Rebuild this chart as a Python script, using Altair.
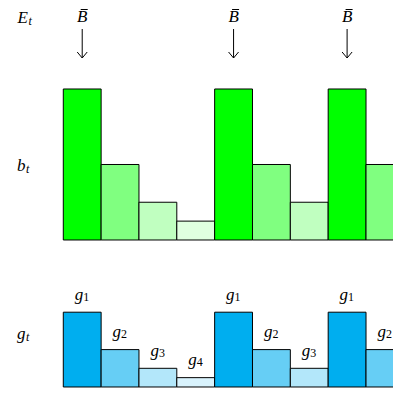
import altair as alt
import pandas as pd

# ---- data ----
slots = list(range(9))
b_values = [8, 4, 2, 1, 8, 4, 2, 8, 4]
g_values = [8, 4, 2, 1, 8, 4, 2, 8, 4]
g_index = ["1", "2", "3", "4", "1", "2", "3", "1", "2"]
events = [1, 0, 0, 0, 1, 0, 0, 1, 0]
levels = [8, 4, 2, 1]
greens = ["#00ff00", "#80ff80", "#c0ffc0", "#e0ffe0"]
blues = ["#00aeef", "#66cef5", "#b3e7fa", "#d9f3fd"]

df = pd.DataFrame({
    "x0": slots,
    "x1": [s + 1 for s in slots],
    "xc": [s + 0.5 for s in slots],
    "b": b_values,
    "g": g_values,
    "gi": g_index,
    "ev": events,
    "zero": [0] * 9,
})
events_df = df[df["ev"] == 1]

FONT = "Liberation Serif"
W, H = 385, 380
xs = alt.Scale(domain=[-1.461, 8.713], nice=False, zero=False)
ys_top = alt.Scale(domain=[-7.841, 12.291], nice=False, zero=False)
ys_bot = alt.Scale(domain=[-0.107, 40.535], nice=False, zero=False)

base = alt.Chart(df)

top_bars = base.mark_rect(stroke="black", strokeWidth=1, clip=True).encode(
    x=alt.X("x0:Q", scale=xs, axis=None),
    x2="x1:Q",
    y=alt.Y("zero:Q", scale=ys_top, axis=None),
    y2="b:Q",
    fill=alt.Fill("b:O", scale=alt.Scale(domain=levels, range=greens), legend=None),
)

bot_bars = base.mark_rect(stroke="black", strokeWidth=1, clip=True).encode(
    x=alt.X("x0:Q", scale=xs, axis=None),
    x2="x1:Q",
    y=alt.Y("zero:Q", scale=ys_bot, axis=None),
    y2="g:Q",
    fill=alt.Fill("g:O", scale=alt.Scale(domain=levels, range=blues), legend=None),
)

g_main = base.mark_text(font=FONT, fontStyle="italic", fontSize=17, align="right",
                        baseline="alphabetic", dx=1, dy=-12.5, color="black").encode(
    x=alt.X("xc:Q", scale=xs, axis=None),
    y=alt.Y("g:Q", scale=ys_bot, axis=None),
    text=alt.value("g"),
)
g_subs = base.mark_text(font=FONT, fontSize=12, align="left",
                        baseline="alphabetic", dx=1, dy=-11.5, color="black").encode(
    x=alt.X("xc:Q", scale=xs, axis=None),
    y=alt.Y("g:Q", scale=ys_bot, axis=None),
    text="gi:N",
)

ev = alt.Chart(events_df)
b_letter = ev.mark_text(font=FONT, fontStyle="italic", fontSize=17, align="center",
                        baseline="alphabetic", color="black").encode(
    x=alt.X("xc:Q", scale=xs, axis=None),
    y=alt.value(14),
    text=alt.value("B"),
)
b_macron = ev.mark_tick(orient="horizontal", size=7, thickness=1, color="black",
                        opacity=1, xOffset=2).encode(
    x=alt.X("xc:Q", scale=xs, axis=None),
    y=alt.value(1.5),
)
arrow_line = ev.mark_rule(color="black", strokeWidth=1).encode(
    x=alt.X("xc:Q", scale=xs, axis=None),
    y=alt.value(21),
    y2=alt.value(50),
)
arrow_head = ev.mark_point(shape="M-1,-1.2L0,0L1,-1.2", filled=False, stroke="black",
                           strokeWidth=1, size=100, opacity=1).encode(
    x=alt.X("xc:Q", scale=xs, axis=None),
    y=alt.value(50),
)

lab = alt.Chart(pd.DataFrame({"xl": [-1.0]}))


def row_label(letter, ypix, dx=0, size=17, sub_dy=2):
    main = lab.mark_text(font=FONT, fontStyle="italic", fontSize=size, align="right",
                         baseline="alphabetic", dx=dx, color="black").encode(
        x=alt.X("xl:Q", scale=xs, axis=None), y=alt.value(ypix), text=alt.value(letter))
    sub = lab.mark_text(font=FONT, fontStyle="italic", fontSize=12, align="left",
                        baseline="alphabetic", dx=dx + 0.5, dy=sub_dy, color="black").encode(
        x=alt.X("xl:Q", scale=xs, axis=None), y=alt.value(ypix), text=alt.value("t"))
    return main + sub


e_lab = row_label("E", 14.5, dx=2.5)
b_lab = row_label("b", 162.5)
g_lab = row_label("g", 330.5)

chart = alt.layer(
    top_bars, bot_bars, g_main, g_subs, b_letter, b_macron, arrow_line, arrow_head,
    e_lab, b_lab, g_lab,
).resolve_scale(
    y="independent", fill="independent"
).properties(
    width=W, height=H, padding=0, autosize=alt.AutoSizeParams(type="none"),
    background="white",
).configure_view(stroke=None)

chart.save("out.html", embed_options={"renderer": "svg", "actions": False})
